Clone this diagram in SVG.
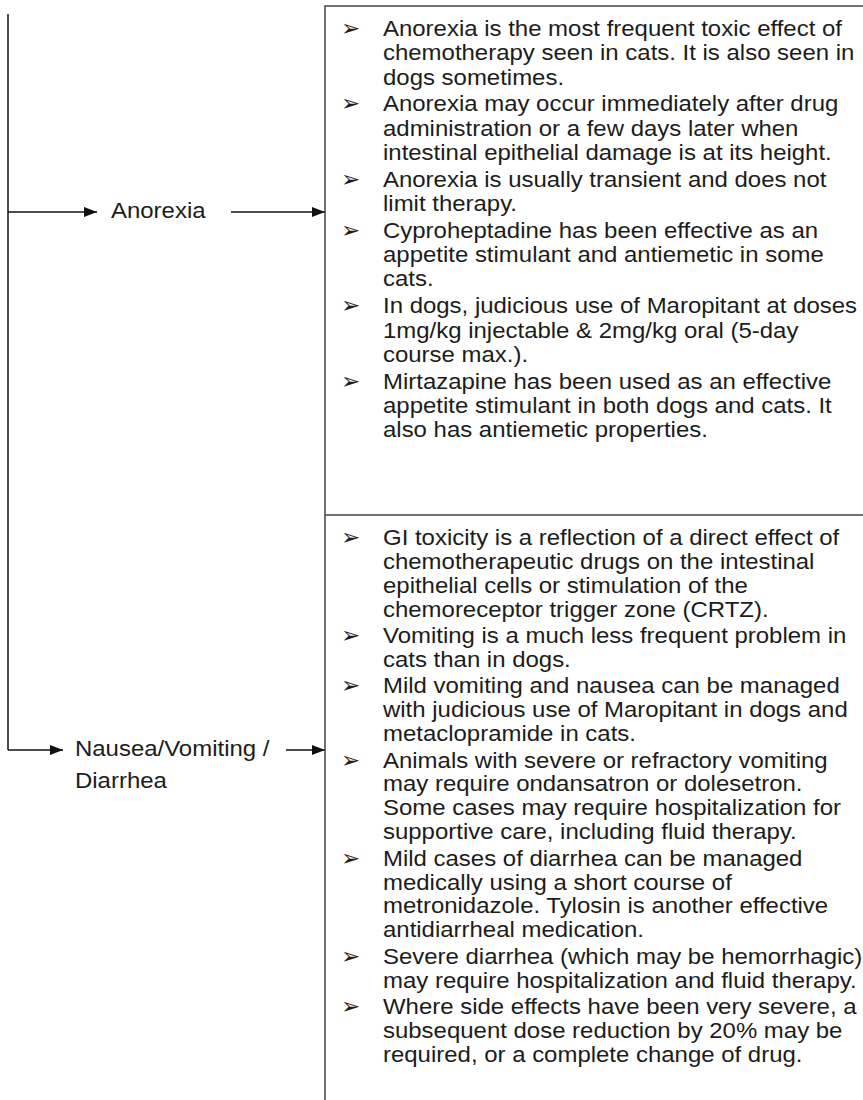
<svg xmlns="http://www.w3.org/2000/svg" width="863" height="1100" viewBox="0 0 863 1100">
<defs>
<marker id="ah" viewBox="0 0 13 10" refX="13" refY="5" markerWidth="13" markerHeight="10" markerUnits="userSpaceOnUse" orient="auto">
<path d="M0,0 L13,5 L0,10 z" fill="#111"/>
</marker>
<style>
.t{font-family:"Liberation Sans",Arial,sans-serif;font-size:22.5px;fill:#1c1c1c}
.b{font-family:"DejaVu Sans",sans-serif;font-size:23px;fill:#1c1c1c}
.ln{stroke:#111;stroke-width:1.5;fill:none}
.box{stroke:#444;stroke-width:1.5;fill:none}
</style>
</defs>
<rect width="863" height="1100" fill="#fff"/>

<g id="connectors">
<path class="ln" d="M8,14 L8,750"/>
<path class="ln" d="M8,212 L97,212" marker-end="url(#ah)"/>
<path class="ln" d="M231,212 L325,212" marker-end="url(#ah)"/>
<path class="ln" d="M8,750 L63,750" marker-end="url(#ah)"/>
<path class="ln" d="M286,750 L325,750" marker-end="url(#ah)"/>
</g>

<g id="label-anorexia">
<text class="t" transform="translate(111,0) scale(1.065,1)" x="0" y="218">Anorexia</text>
</g>

<g id="label-nausea">
<text class="t" transform="translate(75,0) scale(1.065,1)"><tspan x="0" y="756">Nausea/Vomiting /</tspan><tspan x="0" y="788">Diarrhea</tspan></text>
</g>

<g id="box-anorexia">
<path class="box" d="M863,6 L325,6 L325,515"/>
<text class="b" x="341" y="36">➢</text>
<text class="t" transform="translate(383,0) scale(1.065,1)"><tspan x="0" y="36">Anorexia is the most frequent toxic effect of</tspan><tspan x="0" y="60.3">chemotherapy seen in cats. It is also seen in</tspan><tspan x="0" y="84.6">dogs sometimes.</tspan></text>
<text class="b" x="341" y="111.4">➢</text>
<text class="t" transform="translate(383,0) scale(1.065,1)"><tspan x="0" y="111.4">Anorexia may occur immediately after drug</tspan><tspan x="0" y="135.7">administration or a few days later when</tspan><tspan x="0" y="160">intestinal epithelial damage is at its height.</tspan></text>
<text class="b" x="341" y="186.8">➢</text>
<text class="t" transform="translate(383,0) scale(1.065,1)"><tspan x="0" y="186.8">Anorexia is usually transient and does not</tspan><tspan x="0" y="211.1">limit therapy.</tspan></text>
<text class="b" x="341" y="237.9">➢</text>
<text class="t" transform="translate(383,0) scale(1.065,1)"><tspan x="0" y="237.9">Cyproheptadine has been effective as an</tspan><tspan x="0" y="262.2">appetite stimulant and antiemetic in some</tspan><tspan x="0" y="286.5">cats.</tspan></text>
<text class="b" x="341" y="313.3">➢</text>
<text class="t" transform="translate(383,0) scale(1.065,1)"><tspan x="0" y="313.3">In dogs, judicious use of Maropitant at doses</tspan><tspan x="0" y="337.6">1mg/kg injectable &amp; 2mg/kg oral (5-day</tspan><tspan x="0" y="361.9">course max.).</tspan></text>
<text class="b" x="341" y="388.7">➢</text>
<text class="t" transform="translate(383,0) scale(1.065,1)"><tspan x="0" y="388.7">Mirtazapine has been used as an effective</tspan><tspan x="0" y="413">appetite stimulant in both dogs and cats. It</tspan><tspan x="0" y="437.3">also has antiemetic properties.</tspan></text>
</g>

<g id="box-nausea">
<path class="box" d="M863,515 L325,515 L325,1100"/>
<text class="b" x="341" y="545">➢</text>
<text class="t" transform="translate(383,0) scale(1.065,1)"><tspan x="0" y="545">GI toxicity is a reflection of a direct effect of</tspan><tspan x="0" y="568.9">chemotherapeutic drugs on the intestinal</tspan><tspan x="0" y="592.8">epithelial cells or stimulation of the</tspan><tspan x="0" y="616.7">chemoreceptor trigger zone (CRTZ).</tspan></text>
<text class="b" x="341" y="643.1">➢</text>
<text class="t" transform="translate(383,0) scale(1.065,1)"><tspan x="0" y="643.1">Vomiting is a much less frequent problem in</tspan><tspan x="0" y="667">cats than in dogs.</tspan></text>
<text class="b" x="341" y="693.4">➢</text>
<text class="t" transform="translate(383,0) scale(1.065,1)"><tspan x="0" y="693.4">Mild vomiting and nausea can be managed</tspan><tspan x="0" y="717.3">with judicious use of Maropitant in dogs and</tspan><tspan x="0" y="741.2">metaclopramide in cats.</tspan></text>
<text class="b" x="341" y="767.6">➢</text>
<text class="t" transform="translate(383,0) scale(1.065,1)"><tspan x="0" y="767.6">Animals with severe or refractory vomiting</tspan><tspan x="0" y="791.5">may require ondansatron or dolesetron.</tspan><tspan x="0" y="815.4">Some cases may require hospitalization for</tspan><tspan x="0" y="839.3">supportive care, including fluid therapy.</tspan></text>
<text class="b" x="341" y="865.7">➢</text>
<text class="t" transform="translate(383,0) scale(1.065,1)"><tspan x="0" y="865.7">Mild cases of diarrhea can be managed</tspan><tspan x="0" y="889.6">medically using a short course of</tspan><tspan x="0" y="913.5">metronidazole. Tylosin is another effective</tspan><tspan x="0" y="937.4">antidiarrheal medication.</tspan></text>
<text class="b" x="341" y="963.8">➢</text>
<text class="t" transform="translate(383,0) scale(1.065,1)"><tspan x="0" y="963.8">Severe diarrhea (which may be hemorrhagic)</tspan><tspan x="0" y="987.7">may require hospitalization and fluid therapy.</tspan></text>
<text class="b" x="341" y="1014.1">➢</text>
<text class="t" transform="translate(383,0) scale(1.065,1)"><tspan x="0" y="1014.1">Where side effects have been very severe, a</tspan><tspan x="0" y="1038">subsequent dose reduction by 20% may be</tspan><tspan x="0" y="1061.9">required, or a complete change of drug.</tspan></text>
</g>
</svg>
